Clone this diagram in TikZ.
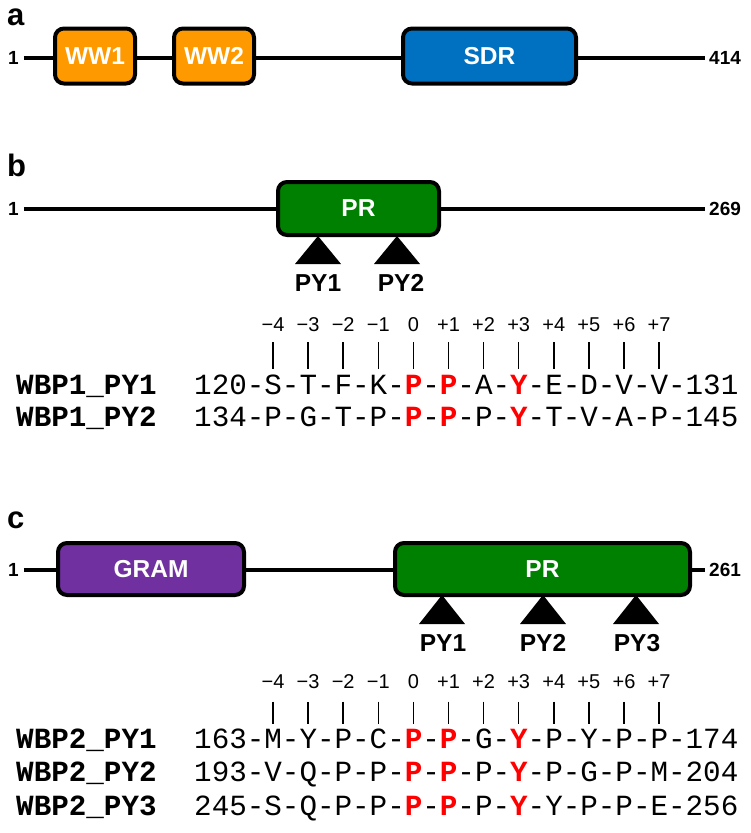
\documentclass[tikz,border=0pt]{standalone}
\usepackage{fontspec}
\setmainfont{Liberation Sans}
\newfontfamily\seqfont{Liberation Mono}
\usepackage{xcolor}
\definecolor{wworange}{RGB}{255,153,0}
\definecolor{sdrblue}{RGB}{0,112,192}
\definecolor{prgreen}{RGB}{0,128,0}
\definecolor{grampurple}{RGB}{112,48,160}
\definecolor{pyred}{RGB}{255,0,0}
\newcommand{\hot}[1]{\textcolor{pyred}{\bfseries #1}}
\tikzset{
    domain-box/.style = {draw=black, line width=4pt, rectangle, rounded corners=9pt, text=white, font=\fontsize{24.5}{24.5}\selectfont\bfseries, minimum height=55pt, inner sep=0pt},
    backbone/.style = {line width=4pt},
    end-num/.style = {font=\fontsize{19}{19}\selectfont\bfseries, inner sep=0pt},
    panel-label/.style = {font=\fontsize{31}{31}\selectfont\bfseries, anchor=base west, inner sep=0pt},
    py-label/.style = {font=\fontsize{24.5}{24.5}\selectfont\bfseries, inner sep=0pt},
    pos-num/.style = {font=\fontsize{20}{20}\selectfont, inner sep=0pt},
    pos-tick/.style = {line width=1.5pt},
    seq-name/.style = {font=\fontsize{29.25}{29.25}\seqfont\bfseries, anchor=base west, inner sep=0pt},
    seq-text/.style = {font=\fontsize{29.25}{29.25}\seqfont, anchor=base west, inner sep=0pt},
    site/.style = {fill=black},
}

\begin{document}
\begin{tikzpicture}[x=1pt,y=-1pt]
\useasboundingbox (0,0) rectangle (751,833);

% a
\node[panel-label] (la) at (7,25) {a};
\node[end-num] (a1) at (13.5,58) {1};
\node[end-num, anchor=west] (a414) at (709,58) {414};
\draw[backbone] ([xshift=5pt]a1.east) -- ([xshift=-4pt]a414.west);
\node[domain-box, fill=wworange, minimum width=80pt] (ww1) at (95,56) {WW1};
\node[domain-box, fill=wworange, minimum width=80pt] (ww2) at (214,56) {WW2};
\node[domain-box, fill=sdrblue, minimum width=173pt] (sdr) at (489.5,56) {SDR};

% b
\node[panel-label] (lb) at (7,176) {b};
\node[end-num] (b1) at (13.5,209) {1};
\node[end-num, anchor=west] (b269) at (709,209) {269};
\draw[backbone] ([xshift=5pt]b1.east) -- ([xshift=-4pt]b269.west);
\node[domain-box, fill=prgreen, minimum width=161pt, minimum height=53pt] (bpr) at (358.5,208.5) {PR};
\coordinate (bpy1) at (318,236);
\coordinate (bpy2) at (397,236);
\foreach \s/\x in {1/318,2/401} {
  \fill[site] (bpy\s) -- ++(-23,28) -- ++(46,0) -- cycle;
  \node[py-label] (bpylab\s) at (\x,283) {PY\s};
}
\foreach \lab [count=\i] in {−4,−3,−2,−1,0,+1,+2,+3,+4,+5,+6,+7} {
  \node[pos-num] (bpos\i) at ({272.98+35.1*(\i-1)},325) {\lab};
  \draw[pos-tick] ([yshift=-10pt]bpos\i.south) -- ++(0,26.5);
}
\node[seq-name] (bname1) at (16,394) {WBP1\_PY1};
\node[seq-name] (bname2) at (16,426) {WBP1\_PY2};
\node[seq-text] (bseq1) at (194,394) {120-S-T-F-K-\hot{P}-\hot{P}-A-\hot{Y}-E-D-V-V-131};
\node[seq-text] (bseq2) at (194,426) {134-P-G-T-P-\hot{P}-\hot{P}-P-\hot{Y}-T-V-A-P-145};

% c
\node[panel-label] (lc) at (7,528) {c};
\node[end-num] (c1) at (13.5,570) {1};
\node[end-num, anchor=west] (c261) at (709,570) {261};
\draw[backbone] ([xshift=5pt]c1.east) -- ([xshift=-4pt]c261.west);
\node[domain-box, fill=grampurple, minimum width=186pt, minimum height=52pt] (gram) at (151,569) {GRAM};
\node[domain-box, fill=prgreen, minimum width=295pt, minimum height=52pt] (cpr) at (542.5,569) {PR};
\coordinate (cpy1) at (442,595);
\coordinate (cpy2) at (543,595);
\coordinate (cpy3) at (636,595);
\foreach \s/\x in {1/443,2/543,3/637} {
  \fill[site] (cpy\s) -- ++(-23,29) -- ++(46,0) -- cycle;
  \node[py-label] (cpylab\s) at (\x,643) {PY\s};
}
\foreach \lab [count=\i] in {−4,−3,−2,−1,0,+1,+2,+3,+4,+5,+6,+7} {
  \node[pos-num] (cpos\i) at ({272.98+35.1*(\i-1)},681.5) {\lab};
  \draw[pos-tick] ([yshift=-13pt]cpos\i.south) -- ++(0,22);
}
\node[seq-name] (cname1) at (16,748.5) {WBP2\_PY1};
\node[seq-name] (cname2) at (16,781.7) {WBP2\_PY2};
\node[seq-name] (cname3) at (16,815) {WBP2\_PY3};
\node[seq-text] (cseq1) at (194,748.5) {163-M-Y-P-C-\hot{P}-\hot{P}-G-\hot{Y}-P-Y-P-P-174};
\node[seq-text] (cseq2) at (194,781.7) {193-V-Q-P-P-\hot{P}-\hot{P}-P-\hot{Y}-P-G-P-M-204};
\node[seq-text] (cseq3) at (194,815) {245-S-Q-P-P-\hot{P}-\hot{P}-P-\hot{Y}-Y-P-P-E-256};
\end{tikzpicture}
\end{document}
